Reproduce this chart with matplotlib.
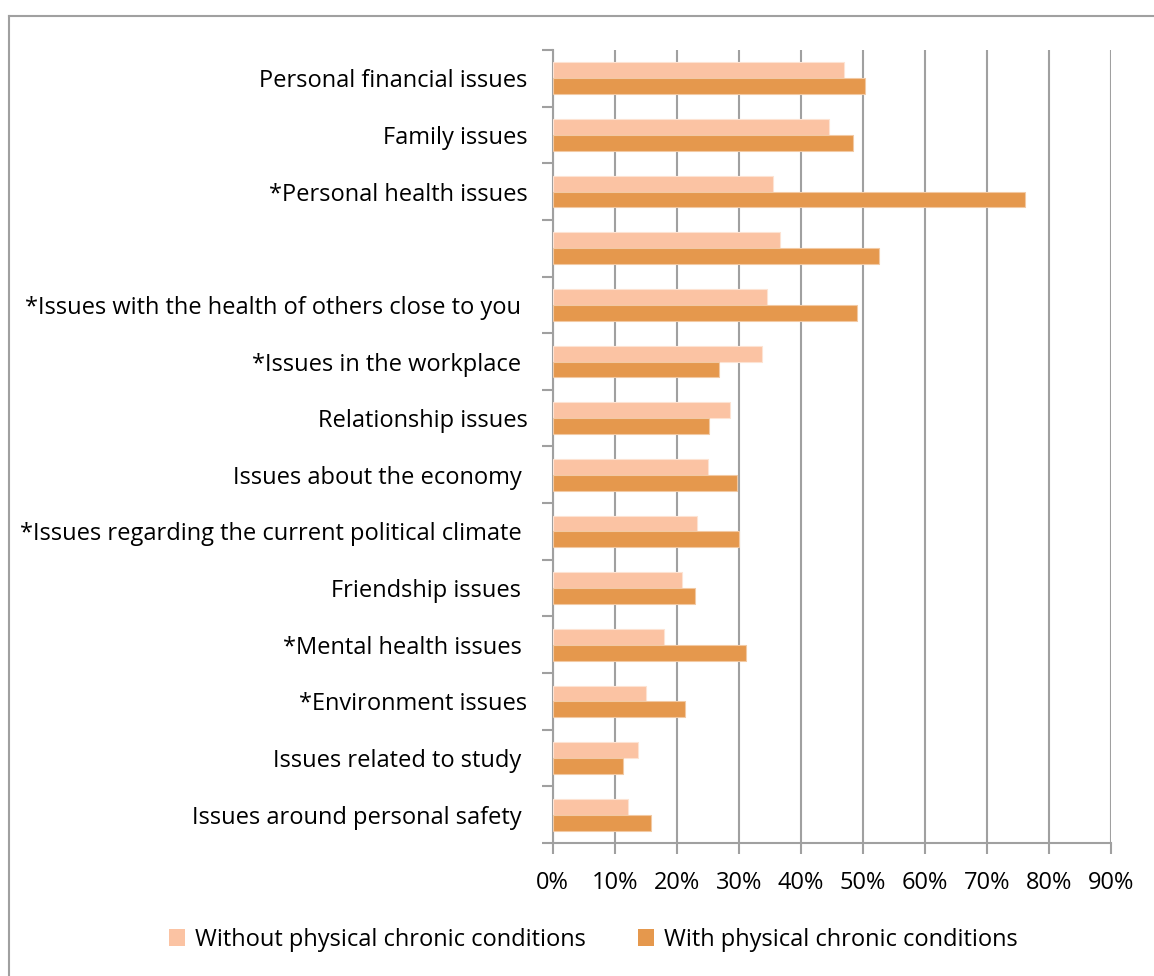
import numpy as np
import matplotlib
matplotlib.use('Agg')
import matplotlib.pyplot as plt
from matplotlib.lines import Line2D
from matplotlib.patches import Patch

plt.rcParams['font.family'] = ['Open Sans', 'DejaVu Sans']

# categories, top to bottom
categories = ['Personal financial issues', 'Family issues', '*Personal health issues', '',
              '*Issues with the health of others close to you ', '*Issues in the workplace ',
              'Relationship issues', 'Issues about the economy ',
              '*Issues regarding the current political climate ', 'Friendship issues ',
              '*Mental health issues ', '*Environment issues', 'Issues related to study ',
              'Issues around personal safety ']
without_cond = [46.9, 44.6, 35.6, 36.6, 34.6, 33.7, 28.6, 25.0, 23.3, 20.9, 18.0, 15.0, 13.8, 12.1]
with_cond = [50.4, 48.5, 76.2, 52.6, 49.1, 26.9, 25.2, 29.7, 30.0, 23.0, 31.2, 21.4, 11.4, 15.8]
xticks = [0, 10, 20, 30, 40, 50, 60, 70, 80, 90]

light = '#FBC3A3'
dark = '#E5984D'
grey = '#A0A0A0'

fig = plt.figure(figsize=(11.54, 9.76), dpi=100)
ax = fig.add_axes([0.4788, 0.1363, 0.9627 - 0.4788, 0.9488 - 0.1363])

y = np.arange(len(categories))
h = 0.28
ax.barh(y - h / 2, without_cond, height=h, color=light, edgecolor='#FDE3D3', linewidth=0.8, zorder=3)
ax.barh(y + h / 2, with_cond, height=h, color=dark, edgecolor='#F2C9A3', linewidth=0.8, zorder=3)

ax.set_xlim(0, 90)
ax.set_ylim(len(categories) - 0.5, -0.5)
ax.set_xticks(xticks)
ax.set_xticklabels([f'{v}%' for v in xticks], fontsize=17)
ax.set_yticks(y)
ax.set_yticklabels(categories, fontsize=17)
ax.set_yticks(np.arange(len(categories) + 1) - 0.5, minor=True)
ax.tick_params(axis='y', which='major', length=0, pad=18)
ax.tick_params(axis='y', which='minor', length=8, width=1.5, color=grey, direction='out')
ax.tick_params(axis='x', length=8, width=1.5, color=grey, direction='out', pad=12)

ax.grid(axis='x', color=grey, linewidth=1.5, zorder=0)
for side in ['top', 'right']:
    ax.spines[side].set_visible(False)
for side in ['left', 'bottom']:
    ax.spines[side].set_color(grey)
    ax.spines[side].set_linewidth(1.5)

handles = [Patch(facecolor=light, edgecolor='none'), Patch(facecolor=dark, edgecolor='none')]
fig.legend(handles, ['Without physical chronic conditions', 'With physical chronic conditions'],
           loc='center', bbox_to_anchor=(0.514, 0.037), ncol=2, frameon=False, fontsize=17,
           handlelength=0.7, handleheight=0.7, handletextpad=0.4, columnspacing=2.2)

# chart border
fig.add_artist(Line2D([8.5 / 1154, 8.5 / 1154], [0, 1 - 15.5 / 976], color=grey, linewidth=1.5))
fig.add_artist(Line2D([8.5 / 1154, 1], [1 - 15.5 / 976, 1 - 15.5 / 976], color=grey, linewidth=1.5))

fig.savefig('out.png', dpi=100)
